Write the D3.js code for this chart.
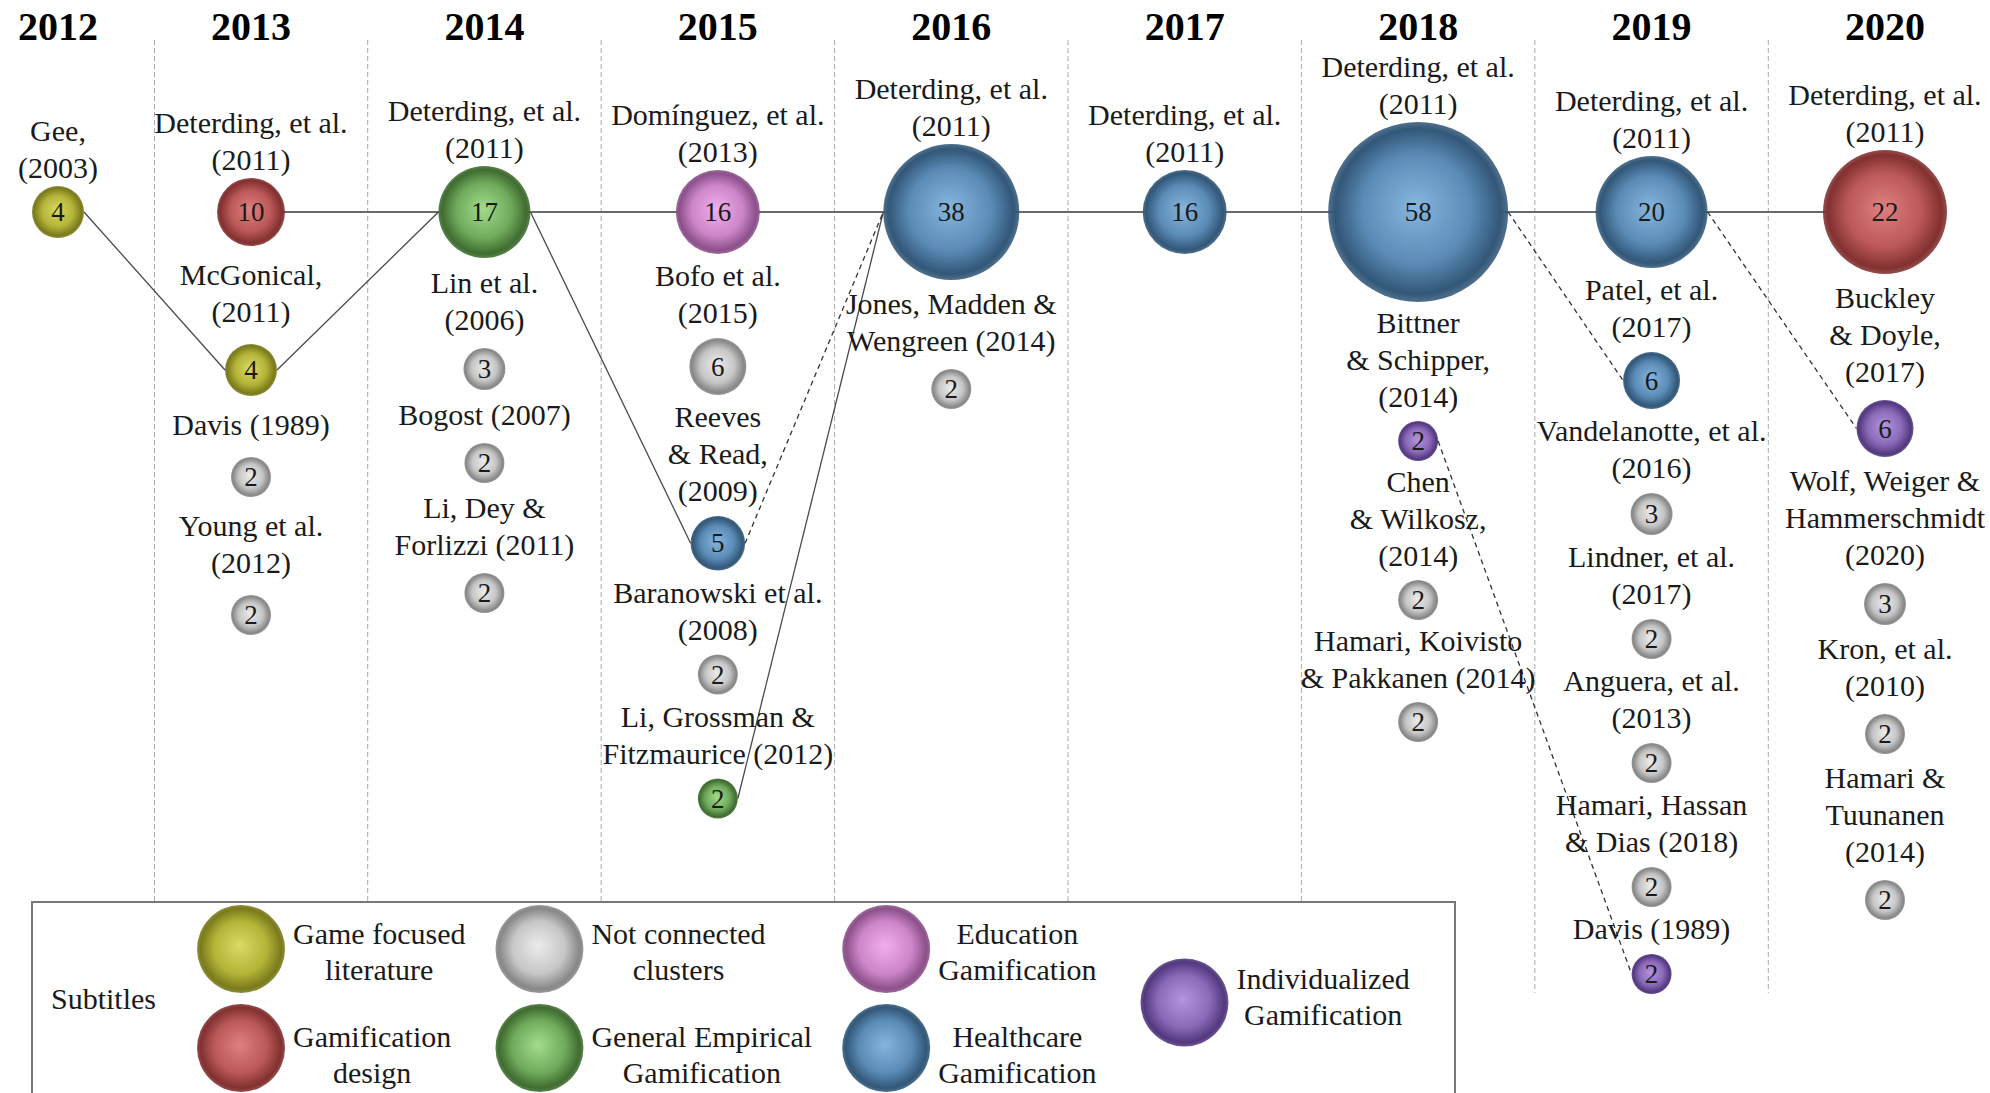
<!DOCTYPE html>
<html>
<head>
<meta charset="utf-8">
<script src="https://cdn.jsdelivr.net/npm/d3@7"></script>
<style>
body{margin:0;background:#fff;}
text{font-family:"Liberation Serif","Times New Roman",serif;fill:#1a1a1a;}
</style>
</head>
<body>
<svg id="chart" width="1990" height="1093"></svg>
<script>
// columns
var years = [2012, 2013, 2014, 2015, 2016, 2017, 2018, 2019, 2020];

// clusters + legend text
var clusterNames = ["game", "design", "none", "empirical", "education", "health", "individual"];
var clusterLabels = [
	["Game focused", "literature"],
	["Gamification", "design"],
	["Not connected", "clusters"],
	["General Empirical", "Gamification"],
	["Education", "Gamification"],
	["Healthcare", "Gamification"],
	["Individualized", "Gamification"]
];

// nodes, top to bottom inside each year ("|" = line break)
var nodeYear = [2012,
	2013, 2013, 2013, 2013,
	2014, 2014, 2014, 2014,
	2015, 2015, 2015, 2015, 2015,
	2016, 2016,
	2017,
	2018, 2018, 2018, 2018,
	2019, 2019, 2019, 2019, 2019, 2019, 2019,
	2020, 2020, 2020, 2020, 2020];
var nodeLabel = ["Gee,|(2003)",
	"Deterding, et al.|(2011)", "McGonical,|(2011)", "Davis (1989)", "Young et al.|(2012)",
	"Deterding, et al.|(2011)", "Lin et al.|(2006)", "Bogost (2007)", "Li, Dey &|Forlizzi (2011)",
	"Domínguez, et al.|(2013)", "Bofo et al.|(2015)", "Reeves|& Read,|(2009)", "Baranowski et al.|(2008)", "Li, Grossman &|Fitzmaurice (2012)",
	"Deterding, et al.|(2011)", "Jones, Madden &|Wengreen (2014)",
	"Deterding, et al.|(2011)",
	"Deterding, et al.|(2011)", "Bittner|& Schipper,|(2014)", "Chen|& Wilkosz,|(2014)", "Hamari, Koivisto|& Pakkanen (2014)",
	"Deterding, et al.|(2011)", "Patel, et al.|(2017)", "Vandelanotte, et al.|(2016)", "Lindner, et al.|(2017)", "Anguera, et al.|(2013)", "Hamari, Hassan|& Dias (2018)", "Davis (1989)",
	"Deterding, et al.|(2011)", "Buckley|& Doyle,|(2017)", "Wolf, Weiger &|Hammerschmidt|(2020)", "Kron, et al.|(2010)", "Hamari &|Tuunanen|(2014)"];
var nodeCount = [4,
	10, 4, 2, 2,
	17, 3, 2, 2,
	16, 6, 5, 2, 2,
	38, 2,
	16,
	58, 2, 2, 2,
	20, 6, 3, 2, 2, 2, 2,
	22, 6, 3, 2, 2];
var nodeCluster = ["game",
	"design", "game", "none", "none",
	"empirical", "none", "none", "none",
	"education", "none", "health", "none", "empirical",
	"health", "none",
	"health",
	"health", "individual", "none", "none",
	"health", "health", "none", "none", "none", "none", "individual",
	"design", "individual", "none", "none", "none"];

// connections (node index -> node index)
var mainNodes = [1, 5, 9, 14, 16, 17, 21, 28];
var links = [[0, 2, "solid"], [2, 5, "solid"], [5, 11, "solid"], [13, 14, "solid"],
	[11, 14, "dash"], [17, 22, "dash"], [21, 29, "dash"], [18, 27, "dash"]];


var W = 1990, H = 1093;
var svg = d3.select("#chart");
svg.append("rect").attr("width", W).attr("height", H).attr("fill", "#fff");

var x = d3.scaleLinear().domain([2012, 2013, 2020]).range([58, 251, 1885]);
var r = d3.scaleLinear()
	.domain([2, 3, 4, 6, 10, 16, 17, 20, 22, 38, 58])
	.range([20, 21, 26, 28.5, 34, 42, 46, 56, 62, 68, 90]);

var colors = {
	game:       ["#dada66", "#b4b438", "#7a7a1c"],
	design:     ["#e08080", "#bb5858", "#823030"],
	none:       ["#ececec", "#c6c6c6", "#878787"],
	empirical:  ["#a2dc8c", "#70aa5c", "#3f6c30"],
	education:  ["#f0aeec", "#cd86c9", "#8c508a"],
	health:     ["#86b6de", "#5b8cb7", "#325778"],
	individual: ["#b494de", "#8a69b8", "#52387e"]
};

var defs = svg.append("defs");
clusterNames.forEach(function(c){
	var g = defs.append("radialGradient").attr("id", "g-" + c)
		.attr("cx", "50%").attr("cy", "50%").attr("r", "50%")
		.attr("fx", "48%").attr("fy", "46%");
	g.append("stop").attr("offset", "0%").attr("stop-color", colors[c][0]);
	g.append("stop").attr("offset", "60%").attr("stop-color", colors[c][1]);
	g.append("stop").attr("offset", "92%").attr("stop-color", colors[c][2]);
	g.append("stop").attr("offset", "100%").attr("stop-color", colors[c][2]).attr("stop-opacity", 0.85);
});

// layout: stack label + bubble down each column
var baseY = 212, lineH = 37;
var colGap = {2012: 50, 2013: 61, 2014: 53, 2015: 47, 2016: 52, 2017: 50, 2018: 45, 2019: 47, 2020: 52};
var nodes = nodeYear.map(function(yr, i){
	return {id: i, year: yr, lines: nodeLabel[i].split("|"), count: nodeCount[i], cluster: nodeCluster[i]};
});
years.forEach(function(yr){
	var cursor = 0;
	nodes.filter(function(n){ return n.year === yr; }).forEach(function(n, k){
		n.r = r(n.count);
		n.x = x(yr);
		var nl = n.lines.length;
		if (k === 0){
			n.y = baseY;
			n.lineY = n.lines.map(function(l, j){ return baseY - n.r - 18 - (nl - 1 - j) * lineH; });
		} else {
			var g = colGap[yr];
			var first = cursor + g * 0.47;
			n.lineY = n.lines.map(function(l, j){ return first + j * lineH; });
			n.y = first + (nl - 1) * lineH + g * 0.53 + n.r;
		}
		cursor = n.y + n.r;
	});
});

// year headers
svg.selectAll(".year").data(years).enter().append("text")
	.attr("class", "year")
	.attr("x", function(d){ return x(d); })
	.attr("y", 40)
	.attr("text-anchor", "middle")
	.style("font-size", "40px")
	.style("font-weight", "bold")
	.style("fill", "#000")
	.text(function(d){ return d; });

// dashed column separators
var legX = 32, legY = 902, legW = 1423;
var seps = years.slice(1).map(function(yr){ return (x(yr - 1) + x(yr)) / 2; });
svg.selectAll(".sep").data(seps).enter().append("line")
	.attr("x1", function(d){ return d; }).attr("x2", function(d){ return d; })
	.attr("y1", 40)
	.attr("y2", function(d){ return d < legX + legW ? legY : 993; })
	.attr("stroke", "#aaa").attr("stroke-width", 1)
	.attr("stroke-dasharray", "5,3");

// main timeline
var mainPts = mainNodes.map(function(i){ return nodes[i]; });
svg.append("line")
	.attr("x1", mainPts[0].x).attr("y1", baseY)
	.attr("x2", mainPts[mainPts.length - 1].x).attr("y2", baseY)
	.attr("stroke", "#6a6a6a").attr("stroke-width", 2);

// links: right edge of source to left edge of target
svg.selectAll(".link").data(links).enter().append("line")
	.attr("class", "link")
	.attr("x1", function(d){ var s = nodes[d[0]]; return s.x + s.r; })
	.attr("y1", function(d){ return nodes[d[0]].y; })
	.attr("x2", function(d){ var t = nodes[d[1]]; return t.x - t.r; })
	.attr("y2", function(d){ return nodes[d[1]].y; })
	.attr("stroke", function(d){ return d[2] === "dash" ? "#333" : "#4a4a4a"; })
	.attr("stroke-width", 1.3)
	.attr("stroke-dasharray", function(d){ return d[2] === "dash" ? "5,4" : null; });

// bubbles
var bub = svg.selectAll(".node").data(nodes).enter().append("g").attr("class", "node");
bub.append("circle")
	.attr("cx", function(d){ return d.x; })
	.attr("cy", function(d){ return d.y; })
	.attr("r", function(d){ return d.r; })
	.attr("fill", function(d){ return "url(#g-" + d.cluster + ")"; });
bub.append("text")
	.attr("x", function(d){ return d.x; })
	.attr("y", function(d){ return d.y + 9; })
	.attr("text-anchor", "middle")
	.style("font-size", "27px")
	.text(function(d){ return d.count; });

// labels
nodes.forEach(function(n){
	svg.selectAll(null).data(n.lines).enter().append("text")
		.attr("x", n.x)
		.attr("y", function(d, j){ return n.lineY[j] + 10; })
		.attr("text-anchor", "middle")
		.style("font-size", "30px")
		.text(function(d){ return d; });
});

// legend
var leg = svg.append("g");
leg.append("rect")
	.attr("x", legX).attr("y", legY).attr("width", legW).attr("height", 220)
	.attr("fill", "#fff").attr("stroke", "#777").attr("stroke-width", 2);
var subT = leg.append("text").attr("x", 51).attr("y", 1009)
	.style("font-size", "30px").text("Subtitles");

var legCols = [["game", "design"], ["none", "empirical"], ["education", "health"], ["individual"]];
var rowY = [949, 1048];
var legR = 44;
var cursorX = 51 + subT.node().getComputedTextLength() + 41;
legCols.forEach(function(col, ci){
	if (col.length === 1) cursorX += 14;
	var cx = cursorX + legR;
	var right = cx + legR;
	col.forEach(function(c, ri){
		var single = col.length === 1;
		var cy = single ? (rowY[0] + rowY[1]) / 2 + 4 : rowY[ri];
		var ty = single ? cy - 6 : cy + 3 + ri * 4;
		var idx = clusterNames.indexOf(c);
		leg.append("circle").attr("cx", cx).attr("cy", cy).attr("r", legR)
			.attr("fill", "url(#g-" + c + ")");
		var tg = leg.append("g");
		var ts = tg.selectAll("text").data(clusterLabels[idx]).enter().append("text")
			.attr("y", function(d, j){ return ty - 18 + j * 36 + 10; })
			.attr("text-anchor", "middle")
			.style("font-size", "30px")
			.text(function(d){ return d; });
		var w = d3.max(ts.nodes(), function(t){ return t.getComputedTextLength(); });
		ts.attr("x", cx + legR + 8 + w / 2);
		right = Math.max(right, cx + legR + 8 + w);
	});
	cursorX = right + 30;
});
</script>
</body>
</html>
